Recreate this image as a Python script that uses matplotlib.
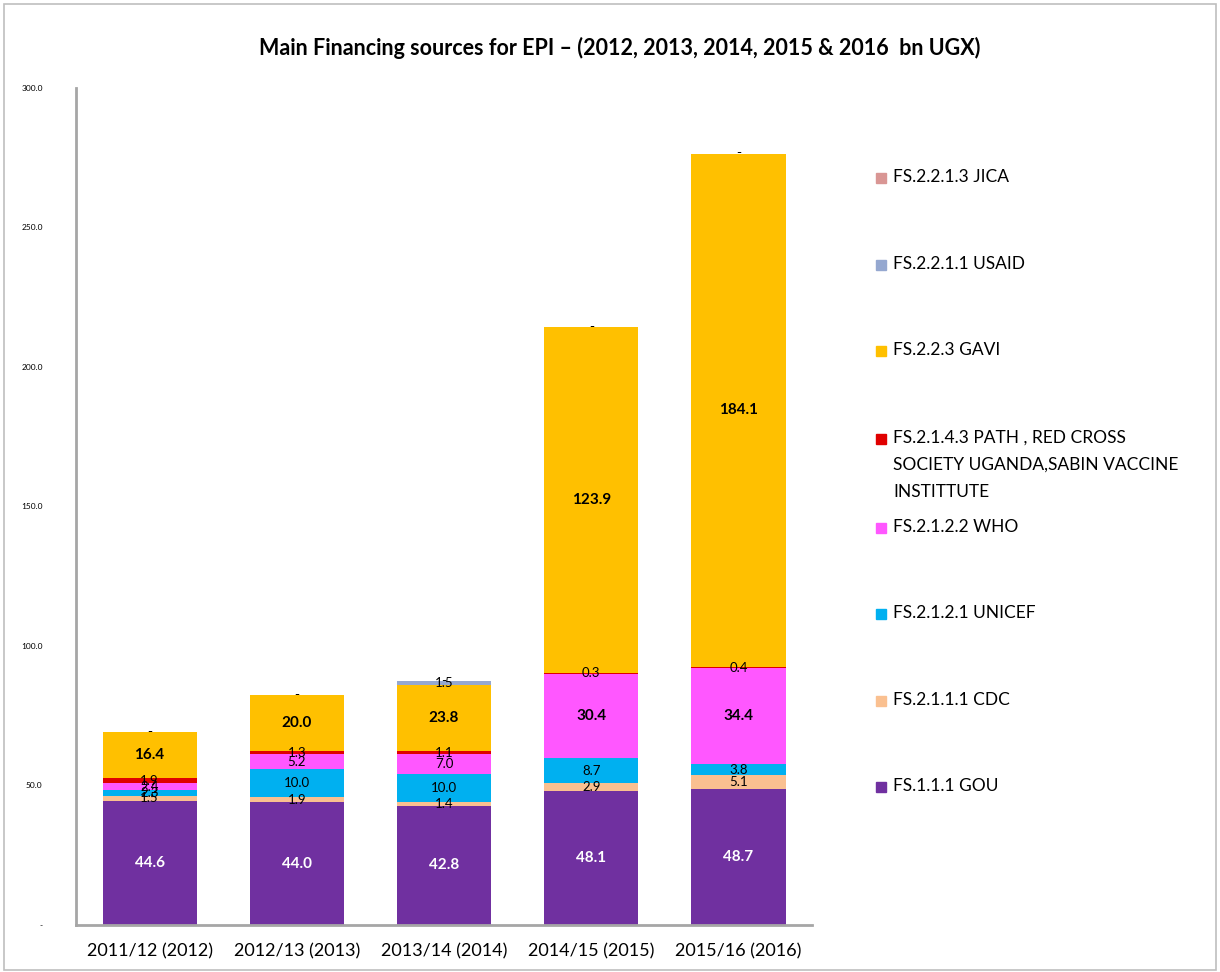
import matplotlib
matplotlib.use("Agg")
from matplotlib import pyplot as plt
from matplotlib.patches import Rectangle
import numpy as np

plt.rcParams['font.family'] = ['Lato', 'DejaVu Sans']

# Data (bn UGX)
years = ["2011/12 (2012)", "2012/13 (2013)", "2013/14 (2014)", "2014/15 (2015)", "2015/16 (2016)"]
gou = [44.6, 44.0, 42.8, 48.1, 48.7]
cdc = [1.5, 1.9, 1.4, 2.9, 5.1]
unicef = [2.3, 10.0, 10.0, 8.7, 3.8]
who = [2.4, 5.2, 7.0, 30.4, 34.4]
path = [1.9, 1.3, 1.1, 0.3, 0.4]
gavi = [16.4, 20.0, 23.8, 123.9, 184.1]
usaid = [0.0, 0.0, 1.5, 0.0, 0.0]
jica = [0.0, 0.0, 0.0, 0.0, 0.0]

series = [
    ("FS.1.1.1 GOU", gou, "#7030A0", "white"),
    ("FS.2.1.1.1 CDC", cdc, "#FAC090", "black"),
    ("FS.2.1.2.1 UNICEF", unicef, "#00B0F0", "black"),
    ("FS.2.1.2.2 WHO", who, "#FF57FF", "black"),
    ("FS.2.1.4.3 PATH , RED CROSS\nSOCIETY UGANDA,SABIN VACCINE\nINSTITTUTE", path, "#E00000", "black"),
    ("FS.2.2.3 GAVI", gavi, "#FFC000", "black"),
    ("FS.2.2.1.1 USAID", usaid, "#95A8D0", "black"),
    ("FS.2.2.1.3 JICA", jica, "#D99694", "black"),
]

fig = plt.figure(figsize=(12.2, 9.72), dpi=100)
ax = fig.add_axes([0.0623, 0.0484, 0.6033, 0.8611])

x = np.arange(len(years))
bottom = np.zeros(len(years))
for name, vals, col, tcol in series:
    vals = np.array(vals)
    ax.bar(x, vals, 0.64, bottom=bottom, color=col, edgecolor="none")
    for i, v in enumerate(vals):
        if v == 0:
            lab = "-"
        else:
            lab = f"{v:.1f}"
        big = v >= 15
        ax.text(x[i], bottom[i] + v / 2, lab, ha="center", va="center",
                fontsize=11 if big else 9.5, color=tcol,
                fontweight="bold" if big else "normal")
    bottom += vals

ax.set_xlim(-0.5, len(years) - 0.5)
ax.set_ylim(0, 300)
ax.set_xticks(x)
ax.set_xticklabels(years, fontsize=13)
ax.set_yticks(np.arange(0, 301, 50))
ax.set_yticklabels(["-"] + [f"{v:.1f}" for v in range(50, 301, 50)], fontsize=6)
ax.tick_params(length=0)
ax.tick_params(axis="x", pad=13)
ax.tick_params(axis="y", pad=24)
for s in ["top", "right"]:
    ax.spines[s].set_visible(False)
for s in ["left", "bottom"]:
    ax.spines[s].set_color("#A6A6A6")
    ax.spines[s].set_linewidth(2)

fig.text(0.508, 0.951, "Main Financing sources for EPI \u2013 (2012, 2013, 2014, 2015 & 2016  bn UGX)",
         ha="center", va="center", fontsize=15.5, fontweight="bold")

# legend, drawn by hand top to bottom
leg_y = [178, 265, 351, 439, 528, 614, 701, 787]
for (name, vals, col, tcol), yp in zip(series[::-1], leg_y):
    fy = 1 - yp / 972
    fig.patches.append(Rectangle((876 / 1220, fy - 5 / 972), 10 / 1220, 10 / 972,
                                 transform=fig.transFigure, color=col))
    fig.text(893 / 1220, fy + 9 / 972, name, ha="left", va="top", fontsize=12.5,
             linespacing=1.85)

# outer border
fig.patches.append(Rectangle((0.003, 0.002), 0.994, 0.994, transform=fig.transFigure,
                             fill=False, edgecolor="#BFBFBF", linewidth=1.2))

fig.savefig("out.png", dpi=100)
